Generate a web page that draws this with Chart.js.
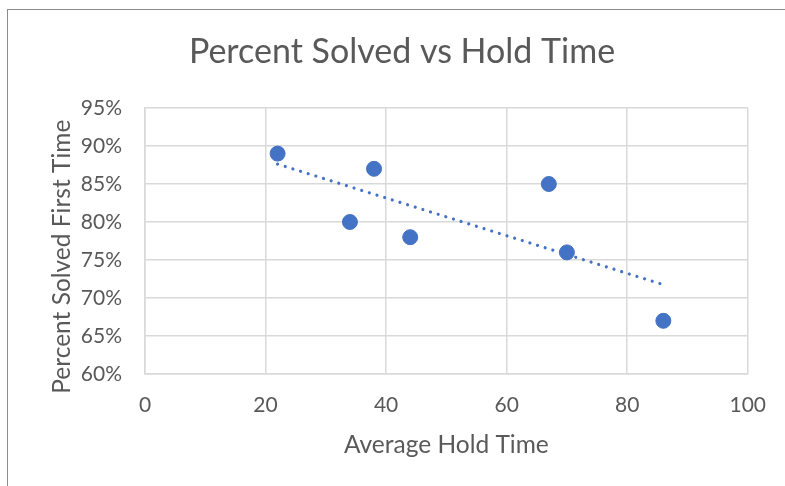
<!DOCTYPE html>
<html>
<head>
<meta charset="utf-8">
<script src="https://cdn.jsdelivr.net/npm/chart.js@4.4.1/dist/chart.umd.min.js"></script>
<style>
  html, body { margin: 0; padding: 0; background: #ffffff; }
  #wrap { position: relative; width: 785px; height: 486px; overflow: hidden; }
  #frame { position: absolute; left: 7px; top: 9px; width: 820px; height: 520px;
           border: 1px solid #8c8c8c; box-sizing: border-box; }
  canvas { position: absolute; left: 0; top: 0; }
</style>
</head>
<body>
<div id="wrap">
  <div id="frame"></div>
  <canvas id="chart" width="785" height="486"></canvas>
</div>
<script>
// Average hold time (x) against percent of calls solved the first time (y)
const holdTimes = [22, 34, 38, 44, 67, 70, 86];
const percentSolved = [89, 80, 87, 78, 85, 76, 67];
const xTicks = [0, 20, 40, 60, 80, 100];
const yTicks = [60, 65, 70, 75, 80, 85, 90, 95];

// Least-squares linear trendline across the observed range
function linearTrend(xs, ys) {
  const n = xs.length;
  const mx = xs.reduce((a, b) => a + b, 0) / n;
  const my = ys.reduce((a, b) => a + b, 0) / n;
  let sxy = 0, sxx = 0;
  for (let i = 0; i < n; i++) {
    sxy += (xs[i] - mx) * (ys[i] - my);
    sxx += (xs[i] - mx) * (xs[i] - mx);
  }
  const slope = sxy / sxx;
  const intercept = my - slope * mx;
  const x0 = Math.min(...xs), x1 = Math.max(...xs);
  return [{ x: x0, y: intercept + slope * x0 }, { x: x1, y: intercept + slope * x1 }];
}

const points = holdTimes.map((x, i) => ({ x: x, y: percentSolved[i] }));
const trend = linearTrend(holdTimes, percentSolved);

const FONT = 'Lato, "Open Sans", sans-serif';
const TEXT = '#595959';
const GRID = '#d9d9d9';
const BLUE = '#4472C4';

new Chart(document.getElementById('chart'), {
  type: 'scatter',
  data: {
    datasets: [
      {
        label: 'Percent Solved',
        data: points,
        backgroundColor: BLUE,
        borderColor: BLUE,
        pointRadius: 7.5,
        pointHoverRadius: 7.5,
        order: 1
      },
      {
        label: 'Trend',
        type: 'line',
        data: trend,
        borderColor: BLUE,
        borderWidth: 3.2,
        borderDash: [0.01, 8],
        borderCapStyle: 'round',
        pointRadius: 0,
        fill: false,
        order: 2
      }
    ]
  },
  options: {
    responsive: false,
    animation: false,
    layout: { padding: { left: 54, top: 0, right: 35, bottom: 0 } },
    plugins: {
      legend: { display: false },
      tooltip: { enabled: false },
      title: {
        display: true,
        text: 'Percent Solved vs Hold Time',
        color: TEXT,
        font: { family: FONT, size: 34, weight: 'normal', lineHeight: 1.2 },
        padding: { top: 32, bottom: 35.2 }
      }
    },
    scales: {
      x: {
        type: 'linear',
        min: 0,
        max: 100,
        afterBuildTicks: s => { s.ticks = xTicks.map(v => ({ value: v })); },
        afterFit: s => { s.height = 112; },
        grid: { color: GRID, lineWidth: 1.5, drawTicks: false },
        border: { display: true, color: GRID, width: 1.5 },
        ticks: { color: TEXT, padding: 19, font: { family: FONT, size: 21 } },
        title: {
          display: true,
          text: 'Average Hold Time',
          color: TEXT,
          font: { family: FONT, size: 24.5, lineHeight: 1.2 },
          padding: { top: 0, bottom: 26 }
        }
      },
      y: {
        type: 'linear',
        min: 60,
        max: 95,
        afterBuildTicks: s => { s.ticks = yTicks.map(v => ({ value: v })); },
        afterFit: s => { s.width = 91; },
        grid: { color: GRID, lineWidth: 1.5, drawTicks: false },
        border: { display: true, color: GRID, width: 1.5 },
        ticks: {
          color: TEXT,
          padding: 23,
          font: { family: FONT, size: 21 },
          callback: v => v + '%'
        },
        title: {
          display: true,
          // trailing spaces set the rotated label a little lower along the axis
          text: 'Percent Solved First Time     ',
          color: TEXT,
          font: { family: FONT, size: 24.5, lineHeight: 1.2 },
          padding: { top: -6.7, bottom: 0 }
        }
      }
    }
  }
});
</script>
</body>
</html>
